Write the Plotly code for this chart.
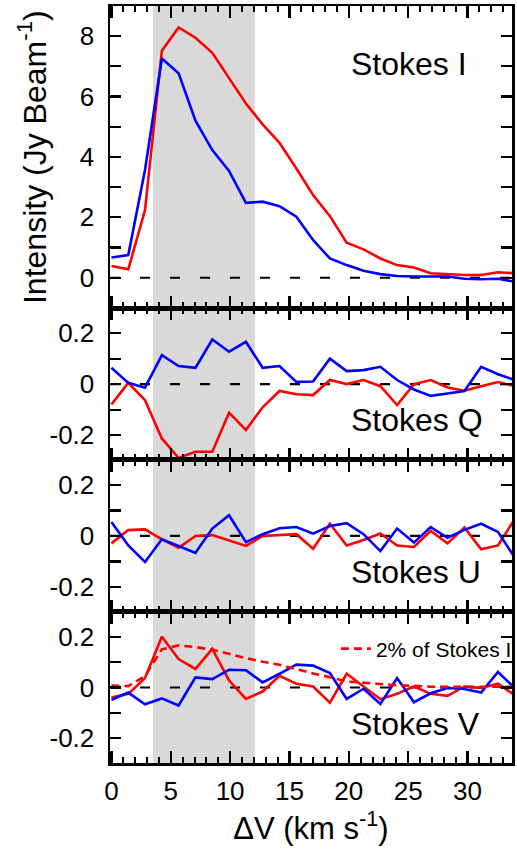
import plotly.graph_objects as go
from plotly.subplots import make_subplots

# Channel velocities (km/s)
velocity = [0.00, 1.42, 2.83, 4.25, 5.66, 7.08, 8.50, 9.91, 11.33, 12.74, 14.16, 15.58,
            16.99, 18.41, 19.82, 21.24, 22.66, 24.07, 25.49, 26.90, 28.32, 29.74, 31.15,
            32.57, 33.98]

stokes_i_red = [0.39, 0.28, 2.24, 7.52, 8.29, 7.95, 7.45, 6.60, 5.77, 5.08, 4.47, 3.62,
                2.74, 2.04, 1.16, 0.94, 0.64, 0.42, 0.34, 0.15, 0.12, 0.09, 0.09, 0.18, 0.15]
stokes_i_blue = [0.67, 0.75, 3.57, 7.26, 6.77, 5.20, 4.23, 3.54, 2.48, 2.52, 2.37, 2.02,
                 1.25, 0.64, 0.42, 0.23, 0.12, 0.06, 0.04, 0.04, 0.04, -0.03, -0.05, -0.03, -0.13]

stokes_q_red = [-0.080, 0.005, -0.063, -0.213, -0.290, -0.265, -0.265, -0.112, -0.180, -0.091,
                -0.027, -0.040, -0.043, 0.016, 0.000, 0.016, -0.008, -0.082, 0.000, 0.016,
                -0.013, -0.026, -0.008, 0.008, -0.008]
stokes_q_blue = [0.064, 0.005, -0.014, 0.114, 0.071, 0.064, 0.175, 0.127, 0.166, 0.064,
                 0.071, 0.009, 0.010, 0.100, 0.051, 0.055, 0.068, 0.016, -0.021, -0.046,
                 -0.037, -0.027, 0.068, 0.039, 0.016]

stokes_u_red = [-0.029, 0.023, 0.026, -0.013, -0.046, 0.000, 0.004, -0.016, -0.039, 0.000,
                0.003, 0.007, -0.050, 0.048, -0.037, -0.016, 0.010, -0.037, -0.043, 0.020,
                -0.029, 0.033, -0.052, -0.037, 0.066]
stokes_u_blue = [0.055, -0.037, -0.102, -0.013, -0.039, -0.066, 0.029, 0.081, -0.024, 0.007,
                 0.030, 0.035, 0.009, 0.039, 0.050, 0.007, -0.059, 0.029, -0.026, 0.035,
                 -0.007, 0.024, 0.048, 0.016, -0.085]

stokes_v_red = [-0.040, -0.025, 0.037, 0.200, 0.112, 0.073, 0.152, 0.028, -0.045, -0.016,
                0.046, 0.015, 0.004, -0.060, 0.054, 0.004, -0.046, -0.025, 0.004, -0.025,
                -0.033, 0.004, -0.002, 0.015, -0.030]
stokes_v_blue = [-0.049, -0.020, -0.066, -0.043, -0.071, 0.040, 0.033, 0.070, 0.068, 0.020,
                 0.054, 0.090, 0.086, 0.057, -0.045, -0.005, -0.065, 0.037, -0.058, -0.023,
                 -0.002, -0.006, -0.020, 0.061, -0.002]

two_percent_i = [0.02 * v for v in stokes_i_red]

panel_labels = ["Stokes I", "Stokes Q", "Stokes U", "Stokes V"]
shade_range = [3.5, 12.08]

i_tick_vals = [0, 2, 4, 6, 8]
i_tick_text = ["0", "2", "4", "6", "8"]
pol_tick_vals = [-0.2, 0, 0.2]
pol_tick_text = ["-0.2", "0", "0.2"]
x_tick_vals = [0, 5, 10, 15, 20, 25, 30]
x_tick_text = ["0", "5", "10", "15", "20", "25", "30"]

RED = "#ff0000"
BLUE = "#0000ff"
FONT = "Liberation Sans, Arial, Helvetica, sans-serif"

fig = make_subplots(rows=4, cols=1, shared_xaxes=True, vertical_spacing=0)

series = [(stokes_i_red, stokes_i_blue), (stokes_q_red, stokes_q_blue),
          (stokes_u_red, stokes_u_blue), (stokes_v_red, stokes_v_blue)]

for r, (red, blue) in enumerate(series, start=1):
    fig.add_trace(go.Scatter(x=velocity, y=red, mode="lines", line=dict(color=RED, width=2.6),
                             showlegend=False, hoverinfo="skip"), row=r, col=1)
    fig.add_trace(go.Scatter(x=velocity, y=blue, mode="lines", line=dict(color=BLUE, width=2.6),
                             showlegend=False, hoverinfo="skip"), row=r, col=1)

fig.add_trace(go.Scatter(x=velocity, y=two_percent_i, mode="lines", name="2% of Stokes I",
                         line=dict(color=RED, width=2.6, dash="8px,5px"), showlegend=True,
                         hoverinfo="skip"),
              row=4, col=1)

domains = [[0.6007, 1.0], [0.4003, 0.6007], [0.1995, 0.4003], [0.0, 0.1995]]
yranges = [[-1.01, 9.0], [-0.2975, 0.2975], [-0.2975, 0.2975], [-0.2975, 0.2975]]
yminor = [1, 0.1, 0.1, 0.1]

for r in range(1, 5):
    sfx = "" if r == 1 else str(r)
    tv, tt = (i_tick_vals, i_tick_text) if r == 1 else (pol_tick_vals, pol_tick_text)
    fig.layout["yaxis" + sfx].update(
        domain=domains[r - 1], range=yranges[r - 1], showgrid=False, zeroline=False,
        showline=True, linecolor="black", linewidth=2.5, mirror="ticks",
        ticks="inside", ticklen=11, tickwidth=2.2, tickcolor="black",
        tickvals=tv, ticktext=tt,
        minor=dict(tick0=0, dtick=yminor[r - 1], ticks="inside", ticklen=11, tickwidth=2.2,
                   tickcolor="black", showgrid=False),
        tickfont=dict(family=FONT, size=26, color="black"),
        ticklabelstandoff=8,
    )
    fig.layout["xaxis" + sfx].update(
        range=[-0.12, 33.75], showgrid=False, zeroline=False,
        showline=True, linecolor="black", linewidth=2.5, mirror="ticks",
        ticks="inside", ticklen=12, tickwidth=2.2, tickcolor="black",
        tickvals=x_tick_vals, ticktext=x_tick_text,
        minor=dict(dtick=1, tick0=0, ticks="inside", ticklen=6, tickwidth=2, tickcolor="black",
                   showgrid=False),
        tickfont=dict(family=FONT, size=26, color="black"),
        showticklabels=(r == 4),
        ticklabelstandoff=3,
    )
    fig.add_vrect(x0=shade_range[0], x1=shade_range[1], fillcolor="#d9d9d9", opacity=1,
                  line_width=0, layer="below", row=r, col=1)
    fig.add_hline(y=0, line=dict(color="black", width=2.2, dash="10px,20px"), layer="below",
                  row=r, col=1)

label_y = [7.07, -0.142, -0.142, -0.142]
for r, (lab, yy) in enumerate(zip(panel_labels, label_y), start=1):
    sfx = "" if r == 1 else str(r)
    fig.add_annotation(x=20.0, y=yy, xref="x" + sfx, yref="y" + sfx, text=lab,
                       showarrow=False, xanchor="left", yanchor="middle",
                       font=dict(family=FONT, size=32, color="black"))

fig.layout.yaxis.title = dict(text="Intensity (Jy Beam<sup>-1</sup>)",
                              font=dict(family=FONT, size=32, color="black"), standoff=24)
fig.layout.xaxis4.title = dict(text="ΔV (km s<sup>-1</sup>)",
                               font=dict(family=FONT, size=31, color="black"), standoff=6)

fig.update_layout(
    width=517, height=859,
    margin=dict(l=110, r=0, t=6, b=96),
    plot_bgcolor="white", paper_bgcolor="white",
    font=dict(family=FONT, color="black"),
    showlegend=True,
    hovermode=False,
    legend=dict(x=0.562, y=0.1506, xanchor="left", yanchor="middle",
                font=dict(family=FONT, size=21, color="black"),
                bgcolor="rgba(0,0,0,0)", borderwidth=0, tracegroupgap=0),
)

fig.write_html("out.html",
               config={"displayModeBar": False, "staticPlot": True},
               post_script="document.body.style.margin='0';document.body.style.overflow='hidden';")
